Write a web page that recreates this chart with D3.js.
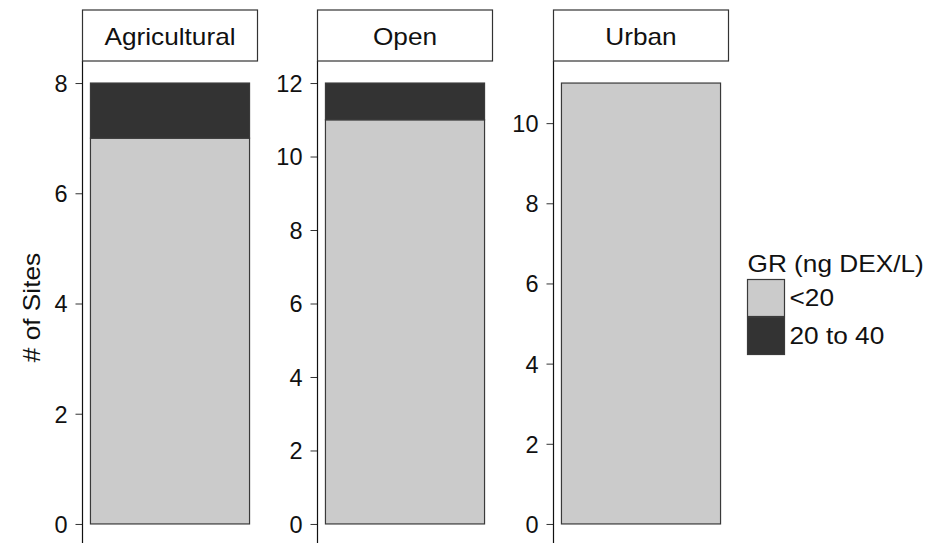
<!DOCTYPE html>
<html>
<head>
<meta charset="utf-8">
<script src="https://cdn.jsdelivr.net/npm/d3@7"></script>
<style>
  html, body { margin: 0; padding: 0; background: #fff; }
  svg { display: block; font-family: "Liberation Sans", Arial, Helvetica, sans-serif; }
</style>
</head>
<body>
<svg id="chart" width="938" height="543"></svg>
<script>
// Land-use categories, one facet each
const categories = ["Agricultural", "Open", "Urban"];
// GR activity classes (legend order, bottom of stack first)
const levels = ["<20", "20 to 40"];
// Number of sites per class in each category
const countsLow = [7, 11, 11];   // <20
const countsMid = [1, 1, 0];     // 20 to 40
const legendTitle = "GR (ng DEX/L)";
const yLabel = "# of Sites";

const colors = d3.scaleOrdinal().domain(levels).range(["#cbcbcb", "#333333"]);

const svg = d3.select("#chart");
const H = 543;

const panelLefts = [82.5, 317.5, 553.5];
const panelW = 175;
const panelTop = 61, panelBottom = 546;
const stripTop = 10;

const labelFont = 23;   // strip, legend and axis-title text
const tickFont = 23.5;
const sx = 1.14;        // wide lettering for labels

// Text drawn at (x, y) with horizontal widening
function wideText(parent, x, y, str, anchor, rotate) {
  const g = parent.append("g")
    .attr("transform", `translate(${x},${y})` + (rotate ? ` rotate(${rotate})` : "") + ` scale(${sx},1)`);
  return g.append("text")
    .attr("text-anchor", anchor || "start")
    .attr("font-size", labelFont)
    .attr("fill", "#111")
    .text(str);
}

categories.forEach((cat, i) => {
  const stack = [
    { level: levels[0], y0: 0, y1: countsLow[i] },
    { level: levels[1], y0: countsLow[i], y1: countsLow[i] + countsMid[i] }
  ].filter(d => d.y1 > d.y0);
  const total = countsLow[i] + countsMid[i];
  const pad = total * 0.05;

  const g = svg.append("g").attr("transform", `translate(${panelLefts[i]},0)`);

  const x = d3.scaleBand().domain([cat]).range([0, panelW])
    .paddingInner(0).paddingOuter(0.05);
  const y = d3.scaleLinear().domain([-pad, total + pad]).range([panelBottom, panelTop]);

  // stacked bar
  g.selectAll("rect.bar").data(stack).join("rect")
    .attr("class", "bar")
    .attr("x", x(cat))
    .attr("width", x.bandwidth())
    .attr("y", d => y(d.y1))
    .attr("height", d => y(d.y0) - y(d.y1))
    .attr("fill", d => colors(d.level))
    .attr("stroke", "#3a3a3a")
    .attr("stroke-width", 1.2);

  // y axis
  const axis = d3.axisLeft(y).ticks(5).tickSize(7).tickPadding(8).tickFormat(d3.format("d"));
  const ax = g.append("g").call(axis);
  ax.select(".domain").remove();
  ax.selectAll(".tick line").attr("stroke", "#333").attr("stroke-width", 1);
  ax.selectAll(".tick text")
    .attr("font-size", tickFont)
    .attr("fill", "#111")
    .attr("font-family", "Liberation Sans, Arial, sans-serif")
    .attr("dy", "0.36em");
  g.append("line")
    .attr("x1", 0).attr("x2", 0)
    .attr("y1", panelTop).attr("y2", H + 5)
    .attr("stroke", "#111").attr("stroke-width", 1.2);

  // facet strip
  g.append("rect")
    .attr("x", 0).attr("y", stripTop)
    .attr("width", panelW).attr("height", panelTop - stripTop)
    .attr("fill", "#fff").attr("stroke", "#333").attr("stroke-width", 1.2);
  wideText(g, panelW / 2, 45, cat, "middle");
});

// y axis title
wideText(svg, 40, (panelTop + panelBottom) / 2 + 4, yLabel, "middle", -90);

// legend
const lg = svg.append("g").attr("transform", "translate(747.5,0)");
wideText(lg, 0, 272, legendTitle, "start");
const keySize = 37;
const keyTop = 279.5;
levels.forEach((lev, j) => {
  const ky = keyTop + j * (keySize + 1);
  lg.append("rect")
    .attr("x", 0).attr("y", ky)
    .attr("width", keySize).attr("height", keySize)
    .attr("fill", colors(lev))
    .attr("stroke", "#3a3a3a").attr("stroke-width", 1.2);
  wideText(lg, keySize + 5, ky + keySize / 2 + 8, lev, "start");
});
</script>
</body>
</html>
